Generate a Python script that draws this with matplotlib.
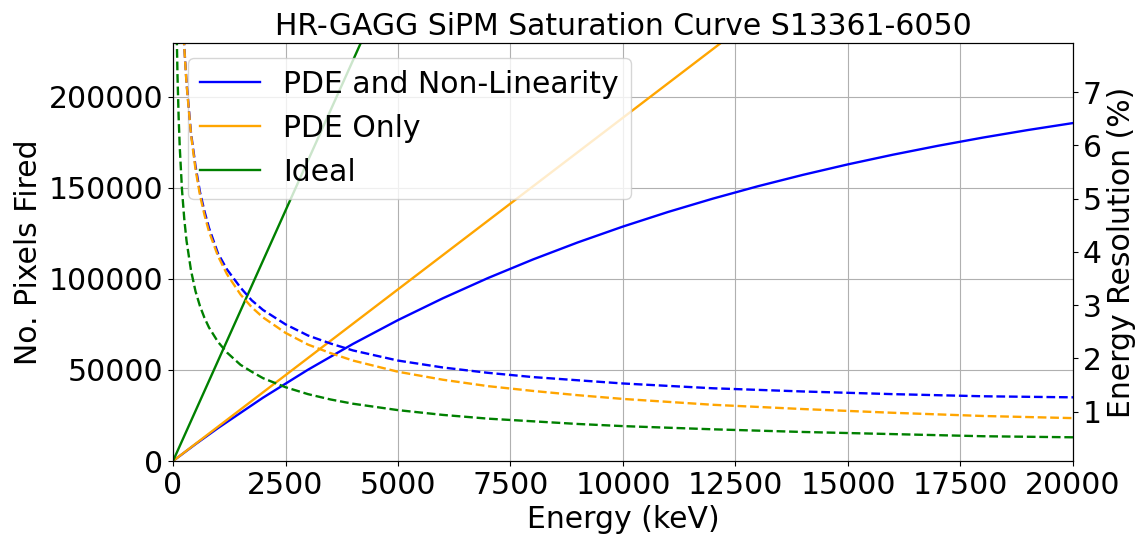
import numpy as np
import matplotlib
matplotlib.use('Agg')
from matplotlib import pyplot as plt
from matplotlib.ticker import MultipleLocator

# Energy points (keV) for the pixel curves
energy = [0, 500, 1000, 2000, 3000, 4000, 5000, 6000, 7000, 8000, 9000, 10000,
          11000, 12000, 13000, 14000, 15000, 16000, 17000, 18000, 19000, 20000]
pixels_nonlin = [0, 9240, 18090, 34770, 50130, 64300, 77370, 89380, 100460, 110660,
                 120060, 128730, 136720, 144070, 150860, 157110, 162870, 168170,
                 173060, 177570, 181720, 185540]
pixels_pde = [0, 9425, 18850, 37700, 56550, 75400, 94250, 113100, 131950, 150800,
              169650, 188500, 207350, 226200, 245050, 263900, 282750, 301600,
              320450, 339300, 358150, 377000]
pixels_ideal = [0, 27500, 55000, 110000, 165000, 220000, 275000, 330000, 385000,
                440000, 495000, 550000, 605000, 660000, 715000, 770000, 825000,
                880000, 935000, 990000, 1045000, 1100000]

# Energy points (keV) for the resolution curves
energy_res = [50, 75, 100, 125, 150, 200, 250, 300, 400, 500, 600, 700, 800, 1000,
              1200, 1500, 1750, 2000, 2500, 3000, 3500, 4000, 5000, 6000, 7000,
              8000, 9000, 10000, 12000, 14000, 16000, 18000, 20000]
res_nonlin = [17.5, 14.3, 12.4, 11.1, 10.13, 8.79, 7.86, 7.18, 6.23, 5.61, 5.12,
              4.76, 4.45, 3.97, 3.67, 3.33, 3.09, 2.91, 2.64, 2.43, 2.28, 2.15,
              1.96, 1.83, 1.73, 1.65, 1.59, 1.53, 1.44, 1.38, 1.33, 1.29, 1.27]
res_pde = [17.5, 14.3, 12.4, 11.09, 10.12, 8.77, 7.84, 7.16, 6.20, 5.55, 5.06,
           4.69, 4.38, 3.92, 3.58, 3.20, 2.96, 2.77, 2.48, 2.26, 2.10, 1.96,
           1.75, 1.60, 1.48, 1.39, 1.31, 1.24, 1.13, 1.05, 0.98, 0.92, 0.88]
res_ideal = [10.32, 8.43, 7.30, 6.53, 5.96, 5.16, 4.62, 4.21, 3.65, 3.26, 2.98,
             2.76, 2.58, 2.31, 2.11, 1.88, 1.75, 1.63, 1.46, 1.33, 1.23, 1.15,
             1.03, 0.94, 0.87, 0.82, 0.77, 0.73, 0.67, 0.62, 0.58, 0.54, 0.52]

plt.rcParams['font.size'] = 21.5

fig = plt.figure(figsize=(11.45, 5.38), dpi=100)
ax1 = fig.add_axes([0.1511, 0.1431, 0.786, 0.777])

ax1.plot(energy, pixels_nonlin, color='blue', lw=1.7, label='PDE and Non-Linearity')
ax1.plot(energy, pixels_pde, color='orange', lw=1.7, label='PDE Only')
ax1.plot(energy, pixels_ideal, color='green', lw=1.7, label='Ideal')
ax1.set_xlim(0, 20000)
ax1.set_ylim(0, 229500)
ax1.set_xlabel('Energy (keV)')
ax1.set_ylabel('No. Pixels Fired')
ax1.set_title('HR-GAGG SiPM Saturation Curve S13361-6050', fontsize=21.5)
ax1.grid(True)
ax1.legend(loc='upper left')

ax2 = ax1.twinx()
ax2.plot(energy_res, res_nonlin, color='blue', lw=1.7, linestyle='--')
ax2.plot(energy_res, res_pde, color='orange', lw=1.7, linestyle='--')
ax2.plot(energy_res, res_ideal, color='green', lw=1.7, linestyle='--')
ax2.set_ylim(0.075, 7.92)
ax2.yaxis.set_major_locator(MultipleLocator(1))
ax2.set_ylabel('Energy Resolution (%)')

fig.savefig('out.png', dpi=100)
